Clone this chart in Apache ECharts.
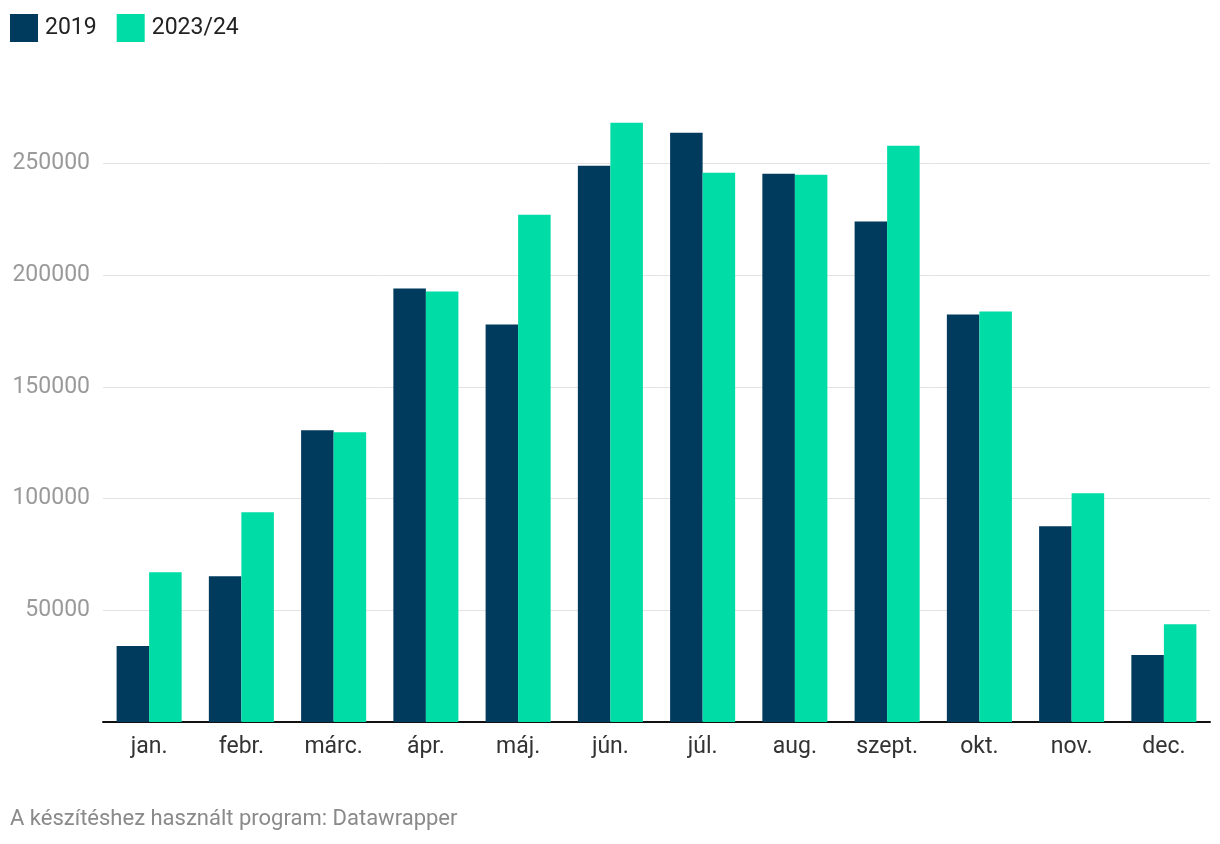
<!DOCTYPE html>
<html>
<head>
<meta charset="utf-8">
<script src="https://cdn.jsdelivr.net/npm/echarts@6/dist/echarts.min.js"></script>
<style>
html,body{margin:0;padding:0;background:#fff;}
#chart{width:1220px;height:844px;}
</style>
</head>
<body>
<div id="chart"></div>
<script>
const categories = ['jan.', 'febr.', 'márc.', 'ápr.', 'máj.', 'jún.', 'júl.', 'aug.', 'szept.', 'okt.', 'nov.', 'dec.'];
const series2019 = [34000, 65300, 130600, 194100, 178000, 249100, 263900, 245500, 224100, 182500, 87700, 30000];
const series2023 = [67100, 93900, 129700, 192800, 227200, 268300, 246000, 245100, 258000, 183800, 102400, 43800];
const seriesNames = ['2019', '2023/24'];
const footerText = 'A készítéshez használt program: Datawrapper';

const chart = echarts.init(document.getElementById('chart'), null, {renderer: 'canvas'});
chart.setOption({
  animation: false,
  textStyle: {fontFamily: 'Roboto'},
  color: ['#003a5d', '#00dca6'],
  legend: {
    left: 5, top: 9,
    icon: 'rect', itemWidth: 28, itemHeight: 28, itemGap: 20,
    textStyle: {fontSize: 23, color: '#222', fontFamily: 'Roboto', padding: [0, 0, 0, 2]},
    data: seriesNames
  },
  grid: {left: 103, right: 10, top: 80, bottom: 122, containLabel: false},
  xAxis: {
    type: 'category',
    data: categories,
    axisLine: {lineStyle: {color: '#111', width: 2}},
    axisTick: {show: false},
    axisLabel: {fontSize: 23, color: '#333', margin: 14, fontFamily: 'Roboto'}
  },
  yAxis: {
    type: 'value',
    min: 0, max: 287500, interval: 50000,
    axisLine: {show: false},
    axisTick: {show: false},
    splitLine: {showMaxLine: false, lineStyle: {color: '#e3e3e3', width: 1}},
    axisLabel: {
      fontSize: 23, color: '#9a9a9a', margin: 13, fontFamily: 'Roboto',
      showMaxLabel: false,
      formatter: v => (v === 0 || v > 250000) ? '' : String(v)
    }
  },
  graphic: [{
    type: 'text', left: 10, top: 808,
    style: {text: footerText, fontSize: 22, fill: '#8a8a8a', fontFamily: 'Roboto'}
  }],
  series: [
    {name: seriesNames[0], type: 'bar', data: series2019, barGap: '0%', barCategoryGap: '29.5%'},
    {name: seriesNames[1], type: 'bar', data: series2023, barGap: '0%', barCategoryGap: '29.5%'}
  ]
});
</script>
</body>
</html>
